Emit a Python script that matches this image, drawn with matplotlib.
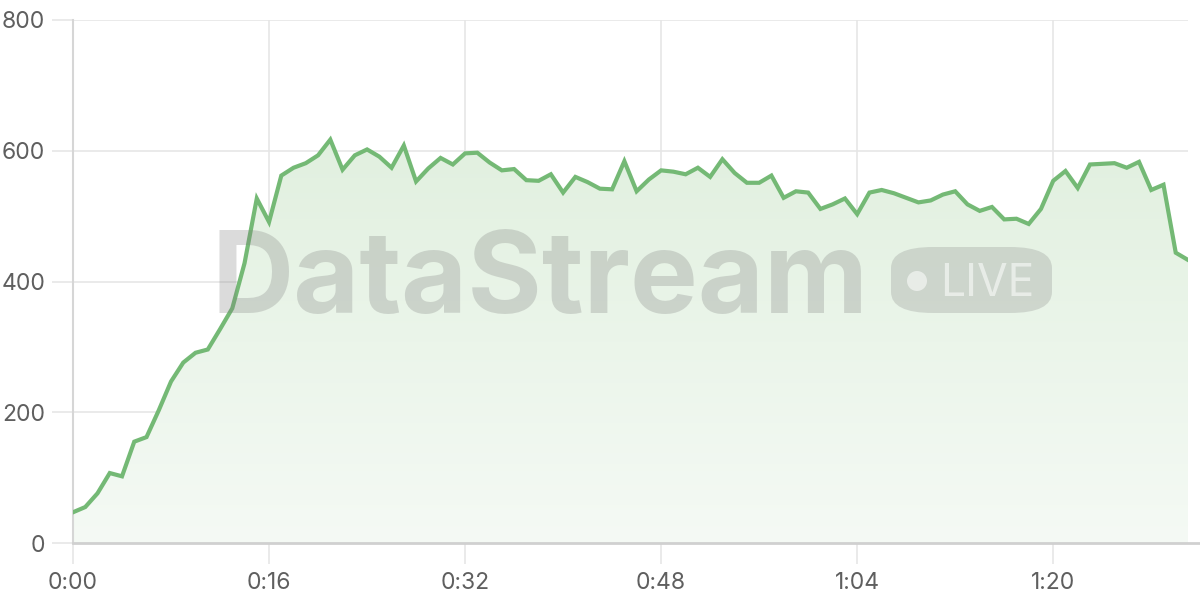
import matplotlib.pyplot as plt
import numpy as np
from matplotlib.patches import FancyBboxPatch, Ellipse

# seconds since start, one sample per second
seconds = list(range(92))
values = [
    47, 55, 76, 107, 102, 155, 162, 203, 247, 276,
    291, 296, 327, 359, 428, 527, 491, 562, 574, 581,
    593, 617, 571, 593, 602, 591, 574, 608, 553, 573,
    589, 579, 596, 597, 582, 570, 572, 555, 554, 564,
    536, 560, 552, 542, 541, 584, 538, 556, 570, 568,
    564, 574, 560, 587, 566, 551, 551, 562, 528, 538,
    536, 511, 518, 527, 503, 536, 540, 535, 528, 521,
    524, 533, 538, 518, 508, 514, 495, 496, 488, 511,
    554, 569, 543, 579, 580, 581, 574, 583, 540, 548,
    444, 433,
]
x_ticks = [0, 16, 32, 48, 64, 80]
x_labels = ["0:00", "0:16", "0:32", "0:48", "1:04", "1:20"]
y_ticks = [0, 200, 400, 600, 800]

line_color = "#74b975"
grid_color = "#e6e6e6"
text_color = "#5f5f5f"

plt.rcParams['font.family'] = ['Inter', 'DejaVu Sans']

fig = plt.figure(figsize=(12, 6), dpi=100)
ax_w = (1188 - 73) / 1200
ax = fig.add_axes([73 / 1200, 1 - 543 / 600, ax_w, (543 - 20) / 600])

x = np.array(seconds)
y = np.array(values)

# gradient fill under the line
poly = ax.fill_between(x, y, 0, color="none", lw=0)
grad = np.linspace(0, 1, 256).reshape(-1, 1)
top = np.array([0.86, 0.93, 0.85])
bottom = np.array([0.96, 0.98, 0.96])
img = bottom + (top - bottom) * grad[..., None] * np.ones((1, 1, 3))
im = ax.imshow(img, extent=[0, 91, 0, 800], origin="lower", aspect="auto", zorder=1)
im.set_clip_path(poly.get_paths()[0], transform=ax.transData)

ax.plot(x, y, color=line_color, lw=3, zorder=3, solid_joinstyle="miter")

ax.set_xlim(0, 91)
ax.set_ylim(0, 800)
ax.set_xticks(x_ticks)
ax.set_xticklabels(x_labels)
ax.set_yticks(y_ticks)
ax.grid(True, color=grid_color, lw=1.2, zorder=0)
ax.set_axisbelow(True)

for side in ["top", "right", "bottom"]:
    ax.spines[side].set_visible(False)
ax.spines["left"].set_color("#d6d6d6")
ax.spines["left"].set_linewidth(1.5)
# bottom axis line runs to the right edge of the figure
ax.axhline(0, xmin=0, xmax=(1200 - 73) / (1188 - 73), color="#d0d0d0", lw=2,
           clip_on=False, zorder=4)

ax.tick_params(axis="x", length=15, width=1.2, color=grid_color, pad=6,
               labelsize=16.5, labelcolor=text_color)
ax.tick_params(axis="y", length=15, width=1.2, color=grid_color, pad=5,
               labelsize=16.5, labelcolor=text_color)

# watermark
fig.text(540 / 1200, 1 - 283 / 600, "DataStream", fontsize=82, fontweight="bold",
         color="#7f7f7f", alpha=0.28, ha="center", va="center", zorder=10)
pill = FancyBboxPatch((891 / 1200, 1 - 313 / 600), 161 / 1200, 66 / 600,
                      boxstyle="round,pad=0,rounding_size=0.035",
                      transform=fig.transFigure, facecolor="#7f7f7f",
                      alpha=0.25, lw=0, zorder=10)
fig.patches.append(pill)
fig.patches.append(Ellipse((917 / 1200, 1 - 281 / 600), 20 / 1200, 20 / 600,
                           transform=fig.transFigure, facecolor="white",
                           alpha=0.55, lw=0, zorder=11))
fig.text(987 / 1200, 1 - 284 / 600, "LIVE", fontsize=32, color="white",
         alpha=0.55, ha="center", va="center", zorder=11)

fig.savefig("out.png", dpi=100)
